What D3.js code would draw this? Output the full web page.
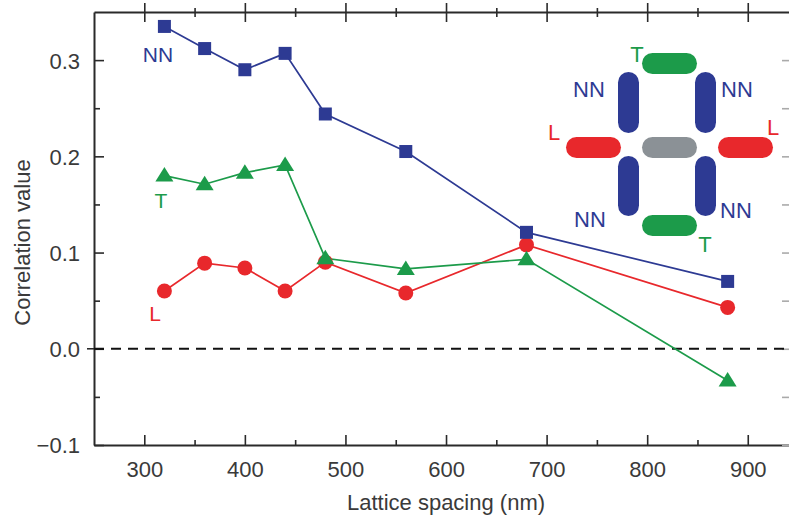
<!DOCTYPE html>
<html>
<head>
<meta charset="utf-8">
<script src="https://cdn.jsdelivr.net/npm/d3@7"></script>
<style>
  html, body { margin: 0; padding: 0; background: #fff; }
  svg { display: block; }
  text { font-family: "Liberation Sans", Arial, Helvetica, sans-serif; }
</style>
</head>
<body>
<svg id="chart" width="789" height="521"></svg>
<script>
// ---- data ----
const spacing = [320, 360, 400, 440, 480, 560, 680, 880];
const nnValues = [0.335, 0.312, 0.290, 0.307, 0.244, 0.205, 0.121, 0.070];
const tValues  = [0.180, 0.171, 0.183, 0.191, 0.094, 0.083, 0.093, -0.033];
const lValues  = [0.060, 0.089, 0.084, 0.060, 0.090, 0.058, 0.108, 0.043];
const xTicks = [300, 400, 500, 600, 700, 800, 900];
const xMinorTicks = [350, 450, 550, 650, 750, 850];
const yTicks = [-0.1, 0.0, 0.1, 0.2, 0.3];
const yMinorTicks = [-0.05, 0.05, 0.15, 0.25];
const yTickLabels = ["\u22120.1", "0.0", "0.1", "0.2", "0.3"];
const xTitle = "Lattice spacing (nm)";
const yTitle = "Correlation value";

(function () {
const BLUE = "#2d3a93", RED = "#e8282c", GREEN = "#1c9b4a", GRAY = "#8b9196";
const AX = "#2a2a2a", TXT = "#3a3a3a";
const FS = 22;

const svg = d3.select("#chart");
const pL = 94, pR = 790, pT = 12, pB = 445;

const x = d3.scaleLinear().domain([250, 942]).range([pL, pR]);
const y = d3.scaleLinear().domain([-0.1, 0.35]).range([pB, pT]);

function styleAxis(g) {
  g.select(".domain").attr("stroke", AX).attr("stroke-width", 2);
  g.selectAll(".tick line").attr("stroke", AX).attr("stroke-width", 1.6);
  g.selectAll(".tick text").attr("fill", TXT).style("font-size", FS + "px")
    .style("font-family", '"Liberation Sans", Arial, Helvetica, sans-serif');
}

// bottom axis
const gB = svg.append("g").attr("transform", `translate(0,${pB})`)
  .call(d3.axisBottom(x).tickValues(xTicks).tickFormat(d3.format("d"))
        .tickSizeInner(-10).tickSizeOuter(0).tickPadding(16));
styleAxis(gB);
const gBm = svg.append("g").attr("transform", `translate(0,${pB})`)
  .call(d3.axisBottom(x).tickValues(xMinorTicks).tickFormat("")
        .tickSizeInner(-5).tickSizeOuter(0));
styleAxis(gBm); gBm.select(".domain").remove();

// top axis (ticks crossing the line)
const gT = svg.append("g").attr("transform", `translate(0,${pT})`)
  .call(d3.axisTop(x).tickValues(xTicks).tickFormat("").tickSizeOuter(0).tickSizeInner(0));
styleAxis(gT);
gT.selectAll(".tick line").attr("y1", -9).attr("y2", 10);
const gTm = svg.append("g").attr("transform", `translate(0,${pT})`)
  .call(d3.axisTop(x).tickValues(xMinorTicks).tickFormat("").tickSizeOuter(0).tickSizeInner(0));
styleAxis(gTm); gTm.select(".domain").remove();
gTm.selectAll(".tick line").attr("y1", -4).attr("y2", 5);

// left axis
const gL = svg.append("g").attr("transform", `translate(${pL},0)`)
  .call(d3.axisLeft(y).tickValues(yTicks).tickFormat((d, i) => yTickLabels[i])
        .tickSizeInner(-10).tickSizeOuter(0).tickPadding(14));
styleAxis(gL);
gL.selectAll(".tick text").attr("dy", "0.36em");
const gLm = svg.append("g").attr("transform", `translate(${pL},0)`)
  .call(d3.axisLeft(y).tickValues(yMinorTicks).tickFormat("")
        .tickSizeInner(-6).tickSizeOuter(0));
styleAxis(gLm); gLm.select(".domain").remove();
svg.append("line").attr("x1", pL - 7).attr("x2", pL)
  .attr("y1", y(0)).attr("y2", y(0)).attr("stroke", AX).attr("stroke-width", 1.6);

// right axis (mostly cropped)
const gR = svg.append("g").attr("transform", `translate(${pR},0)`)
  .call(d3.axisRight(y).tickValues(yTicks.concat(yMinorTicks)).tickFormat("")
        .tickSizeInner(-8).tickSizeOuter(0));
styleAxis(gR);
gR.selectAll(".tick line").attr("stroke", "#aaa");

// zero dashed line
svg.append("line").attr("x1", pL).attr("x2", pR)
  .attr("y1", y(0)).attr("y2", y(0))
  .attr("stroke", "#111").attr("stroke-width", 2).attr("stroke-dasharray", "10,7");

// axis titles
svg.append("text").attr("x", x(600)).attr("y", 510).attr("text-anchor", "middle")
  .attr("fill", TXT).style("font-size", FS + "px").text(xTitle);
svg.append("text").attr("transform", `translate(30,${(158 + 327) / 2}) rotate(-90)`)
  .attr("text-anchor", "middle").attr("fill", TXT).style("font-size", FS + "px").text(yTitle);

// series
const line = d3.line().x(d => x(d[0])).y(d => y(d[1]));
function series(vals, color) {
  const pts = spacing.map((s, i) => [s, vals[i]]);
  svg.append("path").datum(pts).attr("d", line)
    .attr("fill", "none").attr("stroke", color).attr("stroke-width", 1.7);
  return pts;
}
const lPts = series(lValues, RED);
const tPts = series(tValues, GREEN);
const nnPts = series(nnValues, BLUE);

svg.append("g").selectAll("circle").data(lPts).join("circle")
  .attr("cx", d => x(d[0])).attr("cy", d => y(d[1])).attr("r", 7.5).attr("fill", RED);
svg.append("g").selectAll("path").data(tPts).join("path")
  .attr("transform", d => `translate(${x(d[0])},${y(d[1])})`)
  .attr("d", "M0,-8.5 L9,6 L-9,6 Z").attr("fill", GREEN);
svg.append("g").selectAll("rect").data(nnPts).join("rect")
  .attr("x", d => x(d[0]) - 6.5).attr("y", d => y(d[1]) - 6.5)
  .attr("width", 13).attr("height", 13).attr("fill", BLUE);

// series labels
svg.append("text").attr("x", 158).attr("y", 62).attr("text-anchor", "middle")
  .attr("fill", BLUE).style("font-size", "21px").text("NN");
svg.append("text").attr("x", 161).attr("y", 208).attr("text-anchor", "middle")
  .attr("fill", GREEN).style("font-size", "21px").text("T");
svg.append("text").attr("x", 155).attr("y", 321).attr("text-anchor", "middle")
  .attr("fill", RED).style("font-size", "21px").text("L");

// ---- inset schematic ----
const inset = svg.append("g");
const pill = (x0, y0, w, h, c) => inset.append("rect").attr("x", x0).attr("y", y0)
  .attr("width", w).attr("height", h).attr("rx", Math.min(w, h) / 2).attr("fill", c);
pill(642, 53, 55, 21, GREEN);
pill(618, 72, 21, 61, BLUE);
pill(695, 72, 21, 61, BLUE);
pill(566, 137, 55, 21, RED);
pill(642, 137, 55, 21, GRAY);
pill(718, 137, 55, 21, RED);
pill(618, 156, 21, 60, BLUE);
pill(695, 156, 21, 60, BLUE);
pill(642, 215, 55, 21, GREEN);
const lab = (tx, ty, t, c) => inset.append("text").attr("x", tx).attr("y", ty)
  .attr("text-anchor", "middle").attr("fill", c).style("font-size", "22px").text(t);
lab(637, 62, "T", GREEN);
lab(589, 97, "NN", BLUE);
lab(737, 97, "NN", BLUE);
lab(554, 140, "L", RED);
lab(773, 135, "L", RED);
lab(590, 227, "NN", BLUE);
lab(736, 218, "NN", BLUE);
lab(705, 252, "T", GREEN);
})();
</script>
</body>
</html>
